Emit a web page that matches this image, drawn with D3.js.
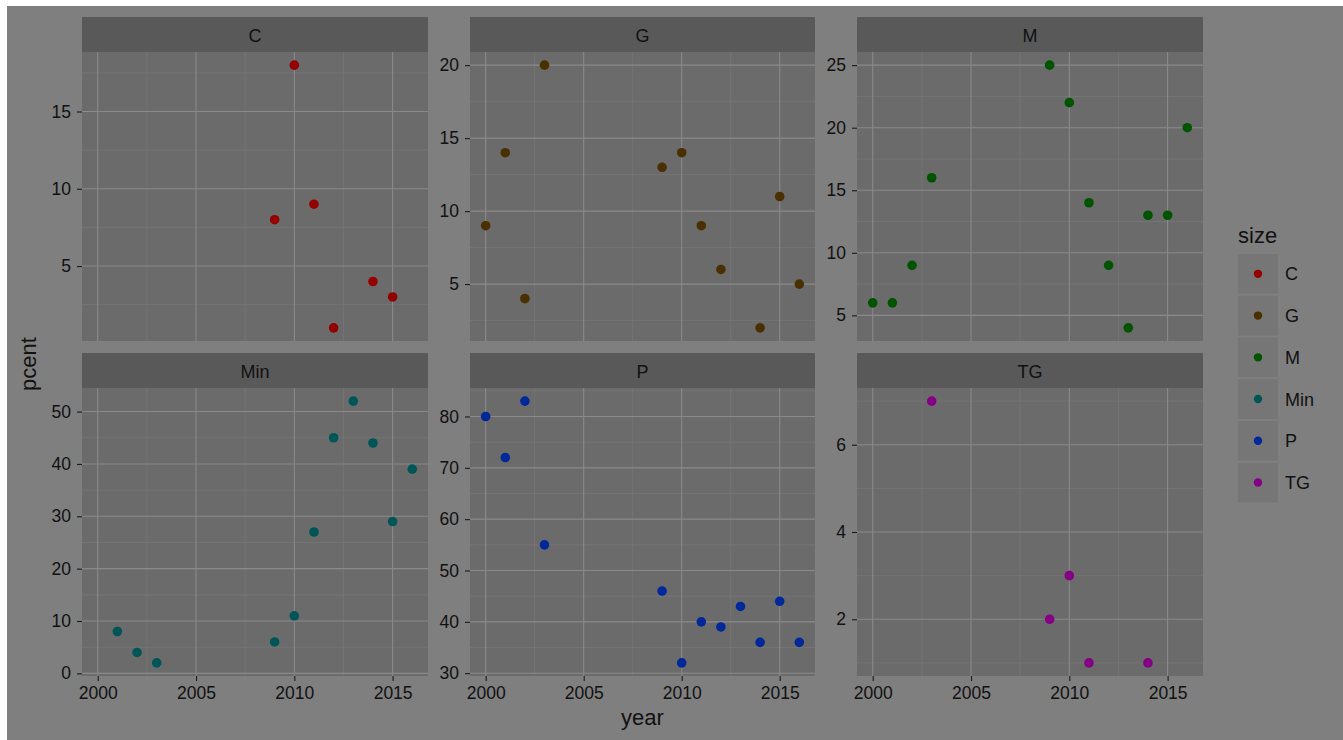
<!DOCTYPE html>
<html>
<head>
<meta charset="utf-8">
<script src="https://cdn.jsdelivr.net/npm/d3@7"></script>
<style>
  body { margin: 0; background: #fff; }
  svg { display: block; font-family: "Liberation Sans", Arial, sans-serif; }
  .domain { display: none; }
</style>
</head>
<body>
<svg width="1343" height="740"></svg>
<script>
var sizes = ["C", "G", "M", "Min", "P", "TG"];
var colors = ["#920000", "#4a3000", "#005400", "#005656", "#00289a", "#860086"];

var yearsC = [2009, 2010, 2011, 2012, 2014, 2015],
    pcentC = [8, 18, 9, 1, 4, 3];
var yearsG = [2000, 2001, 2002, 2003, 2009, 2010, 2011, 2012, 2014, 2015, 2016],
    pcentG = [9, 14, 4, 20, 13, 14, 9, 6, 2, 11, 5];
var yearsM = [2000, 2001, 2002, 2003, 2009, 2010, 2011, 2012, 2013, 2014, 2015, 2016],
    pcentM = [6, 6, 9, 16, 25, 22, 14, 9, 4, 13, 13, 20];
var yearsMin = [2001, 2002, 2003, 2009, 2010, 2011, 2012, 2013, 2014, 2015, 2016],
    pcentMin = [8, 4, 2, 6, 11, 27, 45, 52, 44, 29, 39];
var yearsP = [2000, 2001, 2002, 2003, 2009, 2010, 2011, 2012, 2013, 2014, 2015, 2016],
    pcentP = [80, 72, 83, 55, 46, 32, 40, 39, 43, 36, 44, 36];
var yearsTG = [2003, 2009, 2010, 2011, 2014],
    pcentTG = [7, 2, 3, 1, 1];

var xTicks = [2000, 2005, 2010, 2015];
var yTicks = {
  C: [5, 10, 15], G: [5, 10, 15, 20], M: [5, 10, 15, 20, 25],
  Min: [0, 10, 20, 30, 40, 50], P: [30, 40, 50, 60, 70, 80], TG: [2, 4, 6]
};

var facetData = {
  C: [yearsC, pcentC], G: [yearsG, pcentG], M: [yearsM, pcentM],
  Min: [yearsMin, pcentMin], P: [yearsP, pcentP], TG: [yearsTG, pcentTG]
};

var svg = d3.select("svg");

svg.append("rect")
    .attr("x", 7).attr("y", 6)
    .attr("width", 1343 - 7).attr("height", 740 - 6)
    .attr("fill", "#7f7f7f");

var cols = [[82, 428], [470, 815], [857, 1203]],
    rows = [{strip: 17, top: 52, bottom: 341}, {strip: 353, top: 388, bottom: 676}];

var allYears = [].concat(yearsC, yearsG, yearsM, yearsMin, yearsP, yearsTG);
var xExt = d3.extent(allYears), xPad = (xExt[1] - xExt[0]) * 0.05;

function half(ticks) {
  var step = ticks[1] - ticks[0], out = [];
  for (var i = -1; i < ticks.length; i++) out.push(ticks[0] + (i + 0.5) * step);
  return out;
}

function styleAxis(sel) {
  sel.attr("font-size", null).attr("font-family", null);
  sel.selectAll(".tick line").attr("stroke", "#1a1a1a").attr("stroke-width", 1.1);
  sel.selectAll(".tick text").attr("fill", "#111").style("font-size", "17.5px");
}

sizes.forEach(function(s, i) {
  var col = cols[i % 3], row = rows[Math.floor(i / 3)];
  var d = facetData[s];
  var pts = d[0].map(function(yr, j) { return {year: yr, pcent: d[1][j]}; });

  var x = d3.scaleLinear().domain([xExt[0] - xPad, xExt[1] + xPad]).range(col);
  var yExt = d3.extent(d[1]), yPad = (yExt[1] - yExt[0]) * 0.05;
  var y = d3.scaleLinear().domain([yExt[0] - yPad, yExt[1] + yPad]).range([row.bottom, row.top]);

  var g = svg.append("g");

  // strip
  g.append("rect")
      .attr("x", col[0]).attr("y", row.strip)
      .attr("width", col[1] - col[0]).attr("height", row.top - row.strip)
      .attr("fill", "#595959");
  g.append("text")
      .attr("x", (col[0] + col[1]) / 2).attr("y", (row.strip + row.top) / 2 + 7)
      .attr("text-anchor", "middle")
      .attr("fill", "#111").style("font-size", "18px")
      .text(s);

  // panel
  g.append("rect")
      .attr("x", col[0]).attr("y", row.top)
      .attr("width", col[1] - col[0]).attr("height", row.bottom - row.top)
      .attr("fill", "#6b6b6b");

  var yd = y.domain(), xd = x.domain();
  var minorY = half(yTicks[s]).filter(function(v) { return v > yd[0] && v < yd[1]; }),
      minorX = half(xTicks).filter(function(v) { return v > xd[0] && v < xd[1]; });

  g.selectAll(".minor-y").data(minorY).enter().append("line")
      .attr("x1", col[0]).attr("x2", col[1])
      .attr("y1", y).attr("y2", y)
      .attr("stroke", "#7a7a7a").attr("stroke-width", 0.6);
  g.selectAll(".minor-x").data(minorX).enter().append("line")
      .attr("y1", row.top).attr("y2", row.bottom)
      .attr("x1", x).attr("x2", x)
      .attr("stroke", "#7a7a7a").attr("stroke-width", 0.6);
  g.selectAll(".major-y").data(yTicks[s]).enter().append("line")
      .attr("x1", col[0]).attr("x2", col[1])
      .attr("y1", y).attr("y2", y)
      .attr("stroke", "#8a8a8a").attr("stroke-width", 1.1);
  g.selectAll(".major-x").data(xTicks).enter().append("line")
      .attr("y1", row.top).attr("y2", row.bottom)
      .attr("x1", x).attr("x2", x)
      .attr("stroke", "#8a8a8a").attr("stroke-width", 1.1);

  g.append("g")
      .attr("transform", "translate(" + col[0] + ",0)")
      .call(d3.axisLeft(y).tickValues(yTicks[s]).tickFormat(d3.format("d")).tickSize(5).tickPadding(6))
      .call(styleAxis);

  if (row === rows[1]) {
    g.append("g")
        .attr("transform", "translate(0," + row.bottom + ")")
        .call(d3.axisBottom(x).tickValues(xTicks).tickFormat(d3.format("d")).tickSize(5).tickPadding(6))
        .call(styleAxis);
  }

  g.selectAll(".dot").data(pts).enter().append("circle")
      .attr("cx", function(p) { return x(p.year); })
      .attr("cy", function(p) { return y(p.pcent); })
      .attr("r", 4.8)
      .attr("fill", colors[i]);
});

// axis titles
svg.append("text")
    .attr("x", (cols[0][0] + cols[2][1]) / 2).attr("y", 725)
    .attr("text-anchor", "middle")
    .attr("fill", "#111").style("font-size", "22px")
    .text("year");
svg.append("text")
    .attr("transform", "translate(36," + (rows[0].top + rows[1].bottom) / 2 + ") rotate(-90)")
    .attr("text-anchor", "middle")
    .attr("fill", "#111").style("font-size", "22px")
    .text("pcent");

// legend
var leg = svg.append("g").attr("transform", "translate(1238,0)");
leg.append("text")
    .attr("x", 0).attr("y", 243)
    .attr("fill", "#111").style("font-size", "22px")
    .text("size");
var ky = d3.scaleBand().domain(sizes).range([254, 254 + 41.4 * sizes.length]).paddingInner(0.05);
var key = leg.selectAll(".key").data(sizes).enter().append("g")
    .attr("transform", function(s) { return "translate(0," + ky(s) + ")"; });
key.append("rect")
    .attr("width", 40).attr("height", ky.bandwidth())
    .attr("fill", "#767676");
key.append("circle")
    .attr("cx", 20).attr("cy", ky.bandwidth() / 2)
    .attr("r", 4.2)
    .attr("fill", function(s, i) { return colors[i]; });
key.append("text")
    .attr("x", 47).attr("y", ky.bandwidth() / 2 + 6.5)
    .attr("fill", "#111").style("font-size", "18px")
    .text(function(s) { return s; });
</script>
</body>
</html>
